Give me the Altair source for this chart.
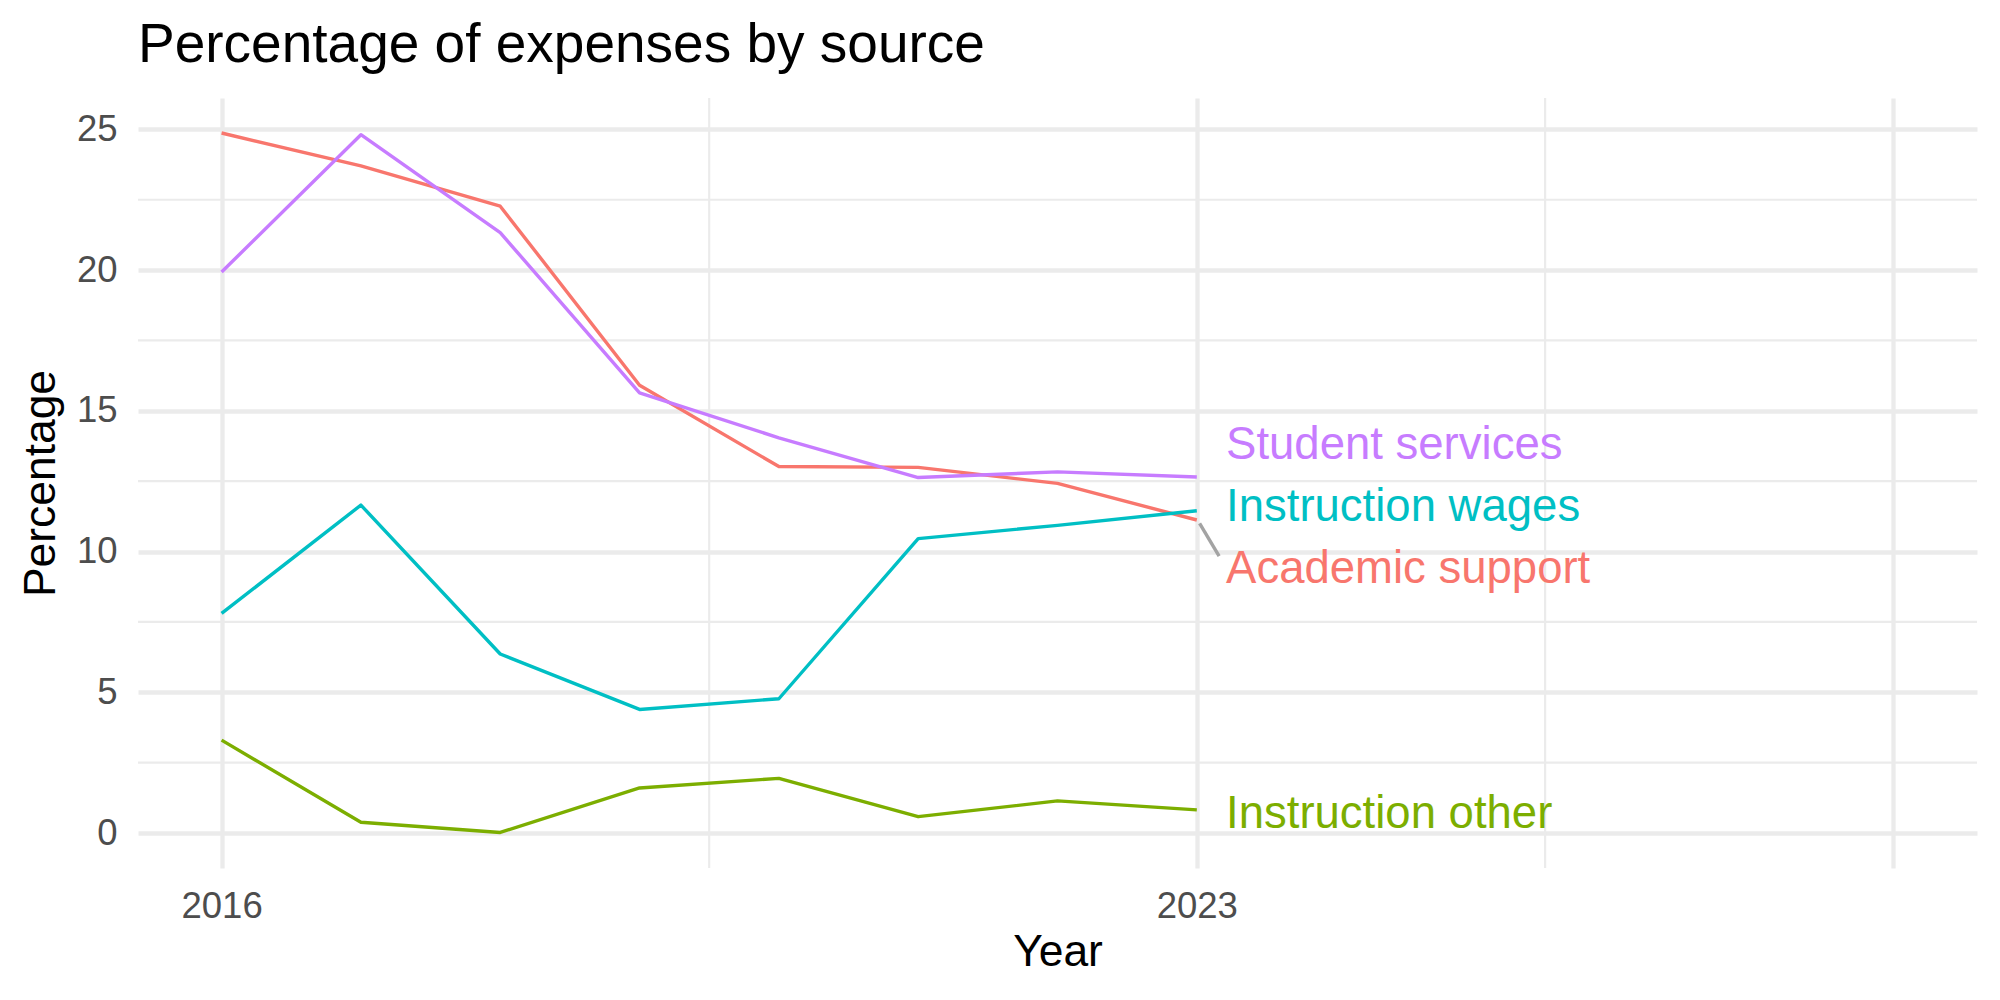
import altair as alt
import pandas as pd

# Share of expenses by source, 2016-2023
years = [2016, 2017, 2018, 2019, 2020, 2021, 2022, 2023]
academic_support = [24.87, 23.70, 22.27, 15.91, 13.02, 12.99, 12.42, 11.12]
instruction_other = [3.30, 0.38, 0.02, 1.60, 1.94, 0.58, 1.14, 0.82]
instruction_wages = [7.80, 11.65, 6.36, 4.39, 4.77, 10.46, 10.93, 11.45]
student_services = [19.93, 24.81, 21.33, 15.64, 14.04, 12.63, 12.83, 12.65]

sources = ["Academic support", "Instruction other", "Instruction wages", "Student services"]
colors = ["#F8766D", "#7CAE00", "#00BFC4", "#C77CFF"]

# End-of-line labels (left edge / baseline in data units)
label_x = [2023.21, 2023.21, 2023.21, 2023.21]
label_y = [8.88, 0.16, 11.08, 13.28]

# Leader segment from the Academic support end point to its label
segment_x = [2023.02, 2023.16]
segment_y = [11.00, 9.84]

# Axis breaks and minor grid positions
x_breaks = [2016, 2023, 2028]
x_minor = [2019.5, 2025.5]
y_breaks = [0, 5, 10, 15, 20, 25]
y_minor = [2.5, 7.5, 12.5, 17.5, 22.5]

FONT = "Liberation Sans"
GRID = "#EBEBEB"

series = {
    "Academic support": academic_support,
    "Instruction other": instruction_other,
    "Instruction wages": instruction_wages,
    "Student services": student_services,
}
lines_df = pd.DataFrame(
    [{"Year": y, "Percentage": v, "Source": s} for s, vals in series.items() for y, v in zip(years, vals)]
)
labels_df = pd.DataFrame({"Year": label_x, "Percentage": label_y, "Source": sources})
segment_df = pd.DataFrame({"Year": segment_x, "Percentage": segment_y})
minor_h_df = pd.DataFrame({"Percentage": y_minor})
minor_v_df = pd.DataFrame({"Year": x_minor})

x_enc = alt.X(
    "Year:Q",
    title="Year",
    scale=alt.Scale(domain=[2015.4, 2028.6], nice=False, zero=False),
    axis=alt.Axis(
        values=x_breaks,
        format="d",
        labelExpr="datum.value == 2028 ? '' : datum.label",
        domain=False,
        ticks=False,
        tickSize=0,
        grid=True,
        gridColor=GRID,
        gridWidth=4.3,
        labelFont=FONT,
        labelFontSize=36.5,
        labelColor="#4D4D4D",
        labelPadding=20,
        titleFont=FONT,
        titleFontSize=44.4,
        titleFontWeight="normal",
        titleColor="#000000",
        titlePadding=6,
    ),
)
y_enc = alt.Y(
    "Percentage:Q",
    title="Percentage",
    scale=alt.Scale(domain=[-1.2435, 26.1135], nice=False, zero=False),
    axis=alt.Axis(
        values=y_breaks,
        domain=False,
        ticks=False,
        tickSize=0,
        grid=True,
        gridColor=GRID,
        gridWidth=4.3,
        labelFont=FONT,
        labelFontSize=36.5,
        labelColor="#4D4D4D",
        labelPadding=21,
        titleFont=FONT,
        titleFontSize=44.4,
        titleFontWeight="normal",
        titleColor="#000000",
        titlePadding=13,
    ),
)
color_enc = alt.Color(
    "Source:N", scale=alt.Scale(domain=sources, range=colors), legend=None
)

minor_h = alt.Chart(minor_h_df).mark_rule(color=GRID, strokeWidth=2.15).encode(y=y_enc)
minor_v = alt.Chart(minor_v_df).mark_rule(color=GRID, strokeWidth=2.15).encode(x=x_enc)

lines = alt.Chart(lines_df).mark_line(strokeWidth=3.4, strokeJoin="round").encode(
    x=x_enc, y=y_enc, color=color_enc, detail="Source:N"
)

segment = alt.Chart(segment_df).mark_line(color="#A3A3A3", strokeWidth=3.4).encode(
    x=x_enc, y=y_enc
)

labels = alt.Chart(labels_df).mark_text(
    align="left", baseline="alphabetic", font=FONT, fontSize=45.5
).encode(x=x_enc, y=y_enc, color=color_enc, text="Source:N")

chart = (
    alt.layer(minor_h, minor_v, lines, segment, labels)
    .properties(
        width=1839,
        height=770,
        padding={"left": 138, "top": 98, "right": 23, "bottom": 132},
        autosize=alt.AutoSizeParams(type="none"),
        background="white",
        title=alt.TitleParams(
            text="Percentage of expenses by source",
            anchor="start",
            frame="group",
            font=FONT,
            fontSize=55,
            fontWeight="normal",
            color="#000000",
            offset=23,
        ),
    )
    .configure_view(stroke=None)
)

chart.save("out.html", embed_options={"renderer": "svg", "actions": False})
